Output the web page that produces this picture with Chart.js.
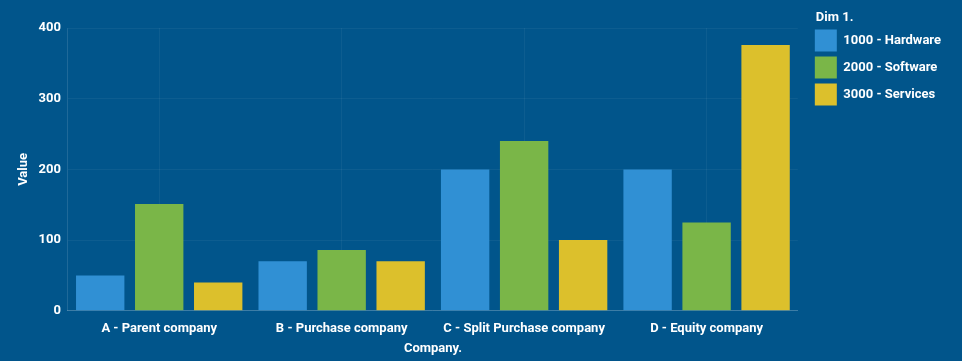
<!DOCTYPE html>
<html>
<head>
<meta charset="utf-8">
<script src="https://cdn.jsdelivr.net/npm/chart.js@4"></script>
<style>
  html, body { margin: 0; padding: 0; background: #01558b; }
  .chart-container { position: relative; width: 962px; height: 361px; }
</style>
</head>
<body>
<div class="chart-container">
  <canvas id="companyChart"></canvas>
</div>
<script>
  // 分类与系列数据
  const companies = ['A - Parent company', 'B - Purchase company', 'C - Split Purchase company', 'D - Equity company'];
  const hardware = [50, 70, 200, 200];
  const software = [151, 86, 240, 125];
  const services = [40, 70, 100, 376];
  const yTicks = [0, 100, 200, 300, 400];

  const seriesLabels = ['1000 - Hardware', '2000 - Software', '3000 - Services'];
  const seriesColors = ['#3090d4', '#7ab648', '#dcc02c'];

  const white = '#ffffff';
  const font = { family: 'Roboto, "Liberation Sans", sans-serif', size: 13, weight: 'bold' };

  // 图例整体平移（贴到右上角），标题再右移与色块对齐
  const legendShift = { x: 12, y: -18 };
  const legendTitleIndent = 6;
  const shiftLegend = {
    id: 'shiftLegend',
    afterLayout(chart) {
      const lg = chart.legend;
      if (!lg) return;
      lg.left += legendShift.x;
      lg.right += legendShift.x;
      lg.top += legendShift.y;
      lg.bottom += legendShift.y;
      if (!lg._indented) {
        const drawTitle = Object.getPrototypeOf(lg).drawTitle;
        lg.drawTitle = function () {
          this.left += legendTitleIndent;
          drawTitle.call(this);
          this.left -= legendTitleIndent;
        };
        lg._indented = true;
      }
    }
  };

  const ctx = document.getElementById('companyChart');
  new Chart(ctx, {
    type: 'bar',
    data: {
      labels: companies,
      datasets: [hardware, software, services].map((values, i) => ({
        label: seriesLabels[i],
        data: values,
        backgroundColor: seriesColors[i],
        borderWidth: 0,
        categoryPercentage: 0.97,
        barPercentage: 0.82
      }))
    },
    plugins: [shiftLegend],
    options: {
      responsive: true,
      maintainAspectRatio: false,
      animation: false,
      layout: { padding: { top: 28, left: 16, right: 23, bottom: 0 } },
      plugins: {
        tooltip: { enabled: false },
        legend: {
          position: 'right',
          align: 'start',
          title: {
            display: true,
            text: 'Dim 1.',
            color: white,
            font: font,
            position: 'start',
            padding: { top: 1, bottom: -2 }
          },
          labels: {
            color: white,
            font: font,
            boxWidth: 22,
            boxHeight: 22,
            padding: 5
          }
        }
      },
      scales: {
        x: {
          grid: {
            offset: false,
            color: 'rgba(255, 255, 255, 0.05)',
            drawTicks: false
          },
          border: { color: 'rgba(255, 255, 255, 0.2)' },
          ticks: { color: white, font: font, padding: 10, maxRotation: 0 },
          title: {
            display: true,
            text: 'Company.',
            color: white,
            font: font,
            padding: { top: -5, bottom: 4 }
          }
        },
        y: {
          min: 0,
          max: 400,
          afterBuildTicks: axis => { axis.ticks = yTicks.map(v => ({ value: v })); },
          grid: {
            color: 'rgba(255, 255, 255, 0.05)',
            drawTicks: false
          },
          border: { color: 'rgba(255, 255, 255, 0.12)' },
          ticks: { color: white, font: font, padding: 7 },
          title: {
            display: true,
            text: 'Value',
            color: white,
            font: font,
            padding: { top: 0, bottom: 0 }
          }
        }
      }
    }
  });
</script>
</body>
</html>
